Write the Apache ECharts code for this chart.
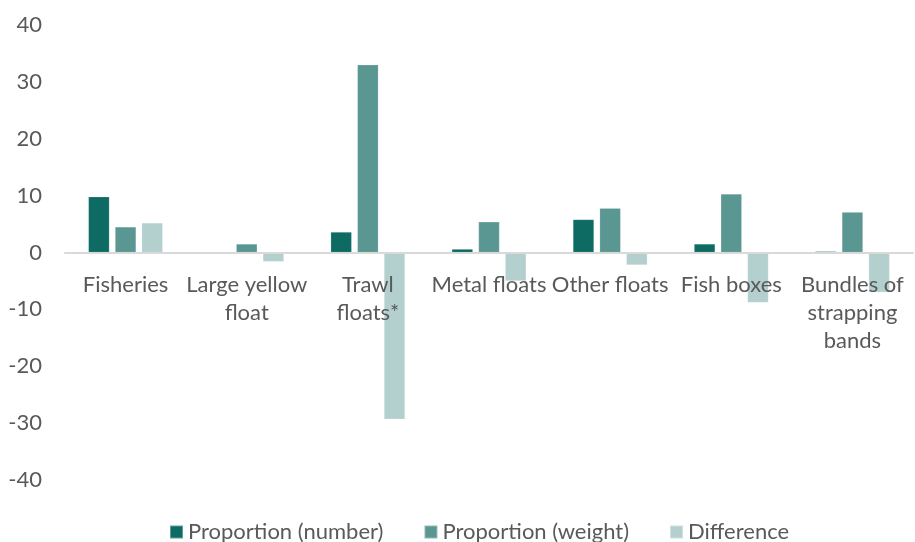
<!DOCTYPE html>
<html><head><meta charset="utf-8">
<script src="https://cdn.jsdelivr.net/npm/echarts@6/dist/echarts.min.js"></script>
<style>html,body{margin:0;padding:0;background:#fff}#c{width:915px;height:542px}</style>
</head><body><div id="c"></div>
<script>
var categories = ["Fisheries", "Large yellow\nfloat", "Trawl\nfloats*", "Metal floats", "Other floats", "Fish boxes", "Bundles of\nstrapping\nbands"];
var propNumber = [9.8, 0, 3.6, 0.6, 5.8, 1.5, 0.2];
var propWeight = [4.5, 1.5, 33.0, 5.4, 7.8, 10.3, 7.1];
var difference = [5.2, -1.6, -29.3, -5.0, -2.2, -8.8, -7.0];
var yTicks = [-40, -30, -20, -10, 0, 10, 20, 30, 40];

var font = "Lato, 'Open Sans', sans-serif";
var gridTop = 25, gridHeight = 455;
var yMin = yTicks[0], yMax = yTicks[yTicks.length - 1];
var zeroOffset = -gridHeight * (0 - yMin) / (yMax - yMin);
var chart = echarts.init(document.getElementById('c'));
function mk(name, data, color) {
  return { name: name, type: 'bar', data: data, barWidth: 21, barGap: '27%', z: 2,
    itemStyle: { color: color, borderColor: 'rgba(255,255,255,0.35)', borderWidth: 0.5 } };
}
chart.setOption({
  animation: false,
  textStyle: { fontFamily: font },
  grid: { left: 65, right: 2, top: gridTop, height: gridHeight, containLabel: false, outerBoundsMode: 'none' },
  xAxis: { type: 'category', data: categories, position: 'bottom', offset: zeroOffset, z: 5,
    axisLine: { onZero: false, lineStyle: { color: '#d9d9d9', width: 2 } },
    axisTick: { show: false },
    axisLabel: { interval: 0, color: '#595959', fontSize: 22, fontFamily: font, lineHeight: 28, margin: 18, hideOverlap: false } },
  yAxis: { type: 'value', min: yMin, max: yMax, interval: 10,
    axisLine: { show: false }, axisTick: { show: false }, splitLine: { show: false },
    axisLabel: { color: '#595959', fontSize: 22, fontFamily: font, margin: 23 } },
  legend: { top: 516, left: 164, itemWidth: 13, itemHeight: 13, itemGap: 40, icon: 'rect',
    textStyle: { color: '#595959', fontSize: 22, fontFamily: font } },
  series: [
    mk('Proportion (number)', propNumber, '#0e6b63'),
    mk('Proportion (weight)', propWeight, '#5a9792'),
    mk('Difference', difference, '#b4d0ce')
  ]
});
</script></body></html>
